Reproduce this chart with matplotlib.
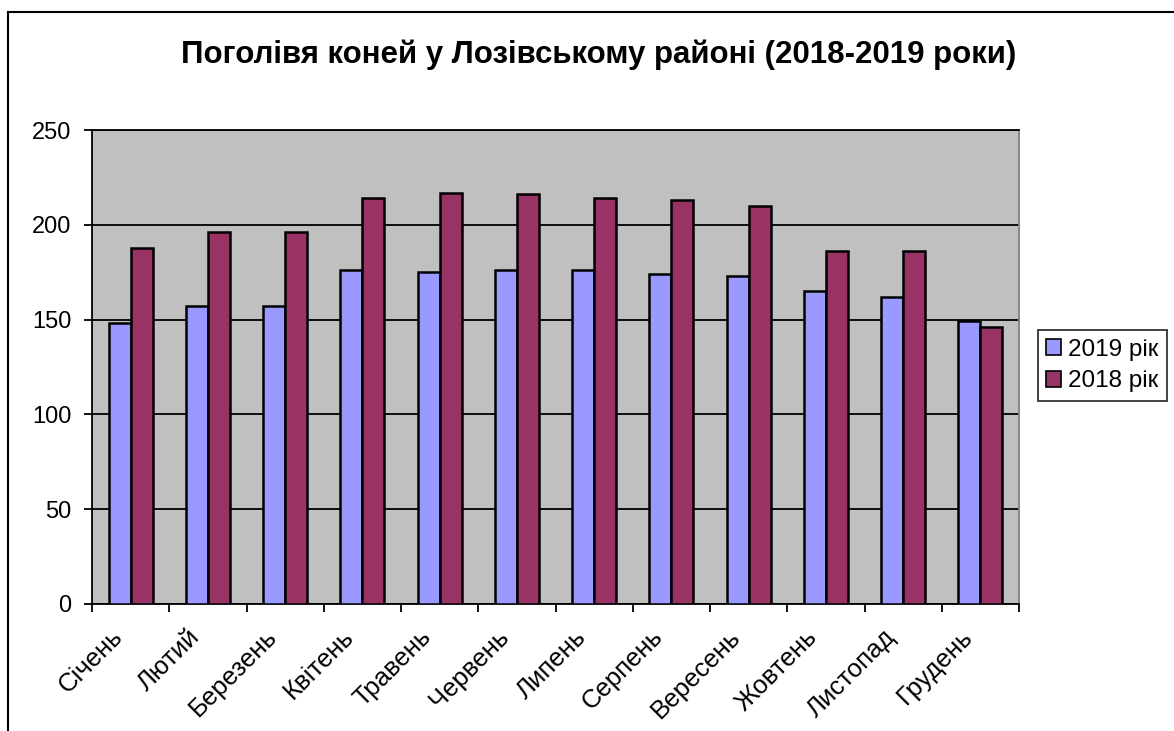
import matplotlib
matplotlib.use("Agg")
import matplotlib.pyplot as plt
import matplotlib.transforms as mtransforms
import numpy as np
from matplotlib.lines import Line2D

plt.rcParams['font.family'] = ['Liberation Sans', 'DejaVu Sans']

months = ["Січень", "Лютий", "Березень", "Квітень", "Травень", "Червень",
          "Липень", "Серпень", "Вересень", "Жовтень", "Листопад", "Грудень"]
y2019 = [148, 157, 157, 176, 175, 176, 176, 174, 173, 165, 162, 149]
y2018 = [188, 196, 196, 214, 217, 216, 214, 213, 210, 186, 186, 146]
series_labels = ["2019 рік", "2018 рік"]
title = "Поголівя коней у Лозівському районі (2018-2019 роки)"

W, H = 1174, 731
fig = plt.figure(figsize=(W / 100, H / 100), dpi=100)
fig.patch.set_facecolor("white")

ax = fig.add_axes([92 / W, 1 - 604 / H, (1019 - 92) / W, (604 - 130) / H])
ax.set_facecolor("#C0C0C0")

x = np.arange(len(months))
bw = 0.285
ax.bar(x - bw / 2, y2019, bw, color="#9999FF", edgecolor="black", linewidth=1.8,
       label=series_labels[0], zorder=3)
ax.bar(x + bw / 2, y2018, bw, color="#993366", edgecolor="black", linewidth=1.8,
       label=series_labels[1], zorder=3)

ax.set_xlim(-0.5, len(months) - 0.5)
ax.set_ylim(0, 250)
ax.set_yticks(np.arange(0, 251, 50))
ax.yaxis.grid(True, color="black", linewidth=1.3, zorder=1)
ax.set_axisbelow(True)

ax.set_xticks(np.arange(-0.5, len(months) + 0.5, 1))
ax.set_xticklabels([])
ax.set_xticks(x, minor=True)
ax.set_xticklabels(months, minor=True, rotation=45, ha="right", va="center",
                   rotation_mode="anchor", fontsize=18.5)
ax.tick_params(axis="x", which="minor", length=0, pad=21)
ax.tick_params(axis="x", which="major", length=6, width=1.3, direction="out")
ax.tick_params(axis="y", length=6, width=1.3, direction="out", labelsize=17, pad=9)
off = mtransforms.ScaledTranslation(-12 / 100, 0, fig.dpi_scale_trans)
for lab in ax.get_xticklabels(minor=True):
    lab.set_transform(lab.get_transform() + off)

for s in ["left", "bottom", "top"]:
    ax.spines[s].set_color("black")
    ax.spines[s].set_linewidth(1.3)
ax.spines["right"].set_color("#808080")
ax.spines["right"].set_linewidth(1.3)

fig.text(599 / W, 1 - 55 / H, title, ha="center", va="center",
         fontsize=22.5, fontweight="bold")

leg = fig.legend(loc="center", bbox_to_anchor=((1038 + 1167) / 2 / W, 1 - 365.5 / H),
                 fontsize=17.5, frameon=True, fancybox=False, edgecolor="black",
                 handlelength=0.6, handleheight=0.6, handletextpad=0.3,
                 borderpad=0.35, labelspacing=0.4, borderaxespad=0)
leg.get_frame().set_linewidth(1.3)
for h in leg.legend_handles:
    h.set_linewidth(1.2)

fig.add_artist(Line2D([8 / W, 8 / W], [0, 1 - 12 / H], color="black", linewidth=1.5,
                      transform=fig.transFigure))
fig.add_artist(Line2D([8 / W, 1], [1 - 12 / H, 1 - 12 / H], color="black", linewidth=1.5,
                      transform=fig.transFigure))

fig.savefig("out.png", dpi=100)
